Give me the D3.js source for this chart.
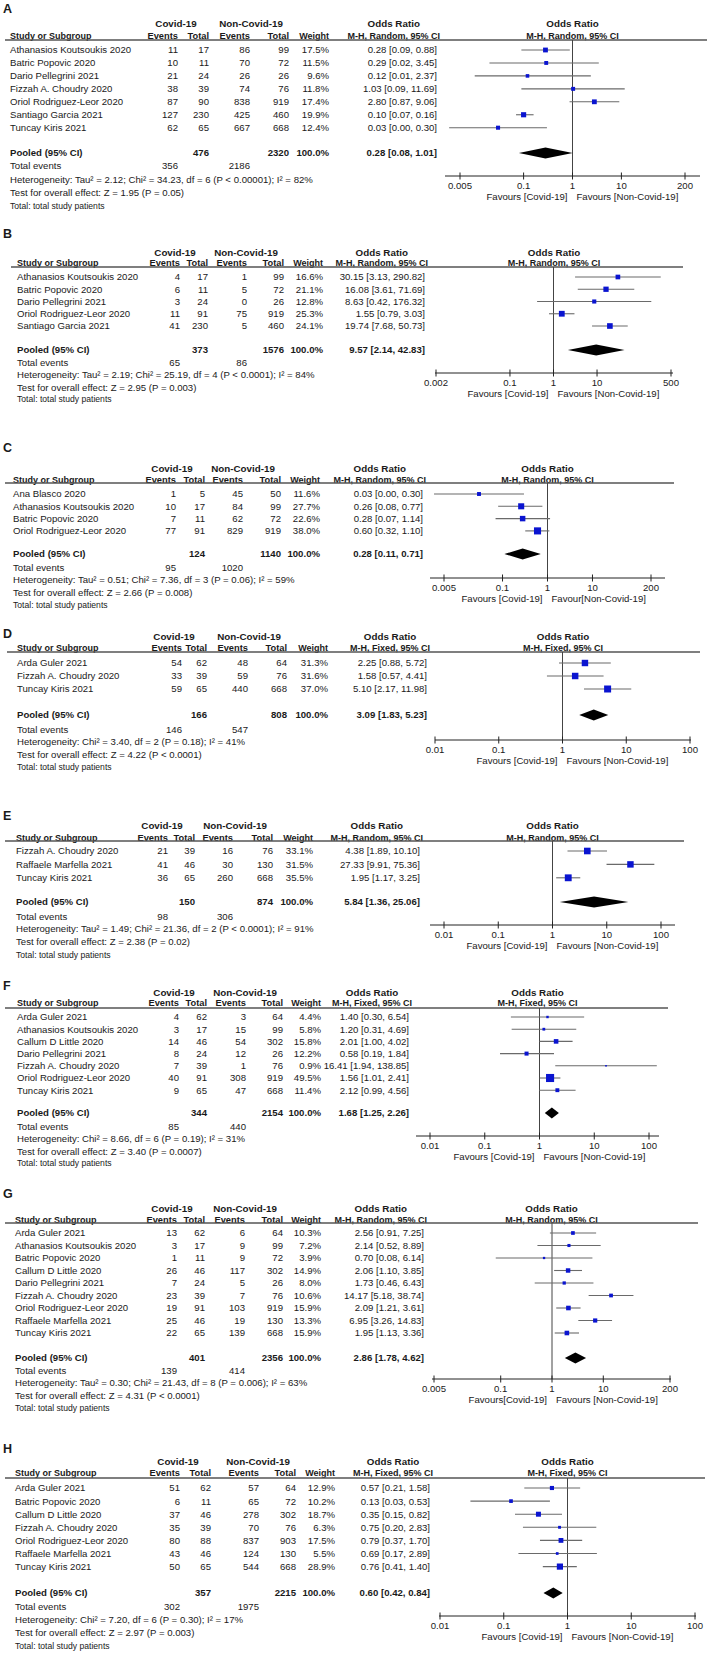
<!DOCTYPE html>
<html>
<head>
<meta charset="utf-8">
<script src="https://cdn.jsdelivr.net/npm/d3@7"></script>
<style>
  body { margin: 0; background: #fff; }
  svg { display: block; font-family: "Liberation Sans", Arial, sans-serif; }
</style>
</head>
<body>
<script>
// ---- data ----

// A
const studiesA = ["Athanasios Koutsoukis 2020", "Batric Popovic 2020", "Dario Pellegrini 2021", "Fizzah A. Choudry 2020", "Oriol Rodriguez-Leor 2020", "Santiago Garcia 2021", "Tuncay Kiris 2021"];
const countsA = [[11, 17, 86, 99], [10, 11, 70, 72], [21, 24, 26, 26], [38, 39, 74, 76], [87, 90, 838, 919], [127, 230, 425, 460], [62, 65, 667, 668]];
const weightsA = [17.5, 11.5, 9.6, 11.8, 17.4, 19.9, 12.4];
const oddsA = [[0.28, 0.09, 0.88], [0.29, 0.02, 3.45], [0.12, 0.01, 2.37], [1.03, 0.09, 11.69], [2.80, 0.87, 9.06], [0.10, 0.07, 0.16], [0.03, 0.003, 0.30]];
const pooledA = [476, 2320, 356, 2186];
const pooledOddsA = [0.28, 0.08, 1.01];
const ticksA = [0.005, 0.1, 1, 10, 200];
const notesA = ["Heterogeneity: Tau² = 2.12; Chi² = 34.23, df = 6 (P < 0.00001); I² = 82%", "Test for overall effect: Z = 1.95 (P = 0.05)"];
const favoursA = ["Favours [Covid-19]", "Favours [Non-Covid-19]"];

// B
const studiesB = ["Athanasios Koutsoukis 2020", "Batric Popovic 2020", "Dario Pellegrini 2021", "Oriol Rodriguez-Leor 2020", "Santiago Garcia 2021"];
const countsB = [[4, 17, 1, 99], [6, 11, 5, 72], [3, 24, 0, 26], [11, 91, 75, 919], [41, 230, 5, 460]];
const weightsB = [16.6, 21.1, 12.8, 25.3, 24.1];
const oddsB = [[30.15, 3.13, 290.82], [16.08, 3.61, 71.69], [8.63, 0.42, 176.32], [1.55, 0.79, 3.03], [19.74, 7.68, 50.73]];
const pooledB = [373, 1576, 65, 86];
const pooledOddsB = [9.57, 2.14, 42.83];
const ticksB = [0.002, 0.1, 1, 10, 500];
const notesB = ["Heterogeneity: Tau² = 2.19; Chi² = 25.19, df = 4 (P < 0.0001); I² = 84%", "Test for overall effect: Z = 2.95 (P = 0.003)"];
const favoursB = ["Favours [Covid-19]", "Favours [Non-Covid-19]"];

// C
const studiesC = ["Ana Blasco 2020", "Athanasios Koutsoukis 2020", "Batric Popovic 2020", "Oriol Rodriguez-Leor 2020"];
const countsC = [[1, 5, 45, 50], [10, 17, 84, 99], [7, 11, 62, 72], [77, 91, 829, 919]];
const weightsC = [11.6, 27.7, 22.6, 38.0];
const oddsC = [[0.03, 0.003, 0.30], [0.26, 0.08, 0.77], [0.28, 0.07, 1.14], [0.60, 0.32, 1.10]];
const pooledC = [124, 1140, 95, 1020];
const pooledOddsC = [0.28, 0.11, 0.71];
const ticksC = [0.005, 0.1, 1, 10, 200];
const notesC = ["Heterogeneity: Tau² = 0.51; Chi² = 7.36, df = 3 (P = 0.06); I² = 59%", "Test for overall effect: Z = 2.66 (P = 0.008)"];
const favoursC = ["Favours [Covid-19]", "Favour[Non-Covid-19]"];

// D
const studiesD = ["Arda Guler 2021", "Fizzah A. Choudry 2020", "Tuncay Kiris 2021"];
const countsD = [[54, 62, 48, 64], [33, 39, 59, 76], [59, 65, 440, 668]];
const weightsD = [31.3, 31.6, 37.0];
const oddsD = [[2.25, 0.88, 5.72], [1.58, 0.57, 4.41], [5.10, 2.17, 11.98]];
const pooledD = [166, 808, 146, 547];
const pooledOddsD = [3.09, 1.83, 5.23];
const ticksD = [0.01, 0.1, 1, 10, 100];
const notesD = ["Heterogeneity: Chi² = 3.40, df = 2 (P = 0.18); I² = 41%", "Test for overall effect: Z = 4.22 (P < 0.0001)"];
const favoursD = ["Favours [Covid-19]", "Favours [Non-Covid-19]"];

// E
const studiesE = ["Fizzah A. Choudry 2020", "Raffaele Marfella 2021", "Tuncay Kiris 2021"];
const countsE = [[21, 39, 16, 76], [41, 46, 30, 130], [36, 65, 260, 668]];
const weightsE = [33.1, 31.5, 35.5];
const oddsE = [[4.38, 1.89, 10.10], [27.33, 9.91, 75.36], [1.95, 1.17, 3.25]];
const pooledE = [150, 874, 98, 306];
const pooledOddsE = [5.84, 1.36, 25.06];
const ticksE = [0.01, 0.1, 1, 10, 100];
const notesE = ["Heterogeneity: Tau² = 1.49; Chi² = 21.36, df = 2 (P < 0.0001); I² = 91%", "Test for overall effect: Z = 2.38 (P = 0.02)"];
const favoursE = ["Favours [Covid-19]", "Favours [Non-Covid-19]"];

// F
const studiesF = ["Arda Guler 2021", "Athanasios Koutsoukis 2020", "Callum D Little 2020", "Dario Pellegrini 2021", "Fizzah A. Choudry 2020", "Oriol Rodriguez-Leor 2020", "Tuncay Kiris 2021"];
const countsF = [[4, 62, 3, 64], [3, 17, 15, 99], [14, 46, 54, 302], [8, 24, 12, 26], [7, 39, 1, 76], [40, 91, 308, 919], [9, 65, 47, 668]];
const weightsF = [4.4, 5.8, 15.8, 12.2, 0.9, 49.5, 11.4];
const oddsF = [[1.40, 0.30, 6.54], [1.20, 0.31, 4.69], [2.01, 1.00, 4.02], [0.58, 0.19, 1.84], [16.41, 1.94, 138.85], [1.56, 1.01, 2.41], [2.12, 0.99, 4.56]];
const pooledF = [344, 2154, 85, 440];
const pooledOddsF = [1.68, 1.25, 2.26];
const ticksF = [0.01, 0.1, 1, 10, 100];
const notesF = ["Heterogeneity: Chi² = 8.66, df = 6 (P = 0.19); I² = 31%", "Test for overall effect: Z = 3.40 (P = 0.0007)"];
const favoursF = ["Favours [Covid-19]", "Favours [Non-Covid-19]"];

// G
const studiesG = ["Arda Guler 2021", "Athanasios Koutsoukis 2020", "Batric Popovic 2020", "Callum D Little 2020", "Dario Pellegrini 2021", "Fizzah A. Choudry 2020", "Oriol Rodriguez-Leor 2020", "Raffaele Marfella 2021", "Tuncay Kiris 2021"];
const countsG = [[13, 62, 6, 64], [3, 17, 9, 99], [1, 11, 9, 72], [26, 46, 117, 302], [7, 24, 5, 26], [23, 39, 7, 76], [19, 91, 103, 919], [25, 46, 19, 130], [22, 65, 139, 668]];
const weightsG = [10.3, 7.2, 3.9, 14.9, 8.0, 10.6, 15.9, 13.3, 15.9];
const oddsG = [[2.56, 0.91, 7.25], [2.14, 0.52, 8.89], [0.70, 0.08, 6.14], [2.06, 1.10, 3.85], [1.73, 0.46, 6.43], [14.17, 5.18, 38.74], [2.09, 1.21, 3.61], [6.95, 3.26, 14.83], [1.95, 1.13, 3.36]];
const pooledG = [401, 2356, 139, 414];
const pooledOddsG = [2.86, 1.78, 4.62];
const ticksG = [0.005, 0.1, 1, 10, 200];
const notesG = ["Heterogeneity: Tau² = 0.30; Chi² = 21.43, df = 8 (P = 0.006); I² = 63%", "Test for overall effect: Z = 4.31 (P < 0.0001)"];
const favoursG = ["Favours[Covid-19]", "Favours [Non-Covid-19]"];

// H
const studiesH = ["Arda Guler 2021", "Batric Popovic 2020", "Callum D Little 2020", "Fizzah A. Choudry 2020", "Oriol Rodriguez-Leor 2020", "Raffaele Marfella 2021", "Tuncay Kiris 2021"];
const countsH = [[51, 62, 57, 64], [6, 11, 65, 72], [37, 46, 278, 302], [35, 39, 70, 76], [80, 88, 837, 903], [43, 46, 124, 130], [50, 65, 544, 668]];
const weightsH = [12.9, 10.2, 18.7, 6.3, 17.5, 5.5, 28.9];
const oddsH = [[0.57, 0.21, 1.58], [0.13, 0.03, 0.53], [0.35, 0.15, 0.82], [0.75, 0.20, 2.83], [0.79, 0.37, 1.70], [0.69, 0.17, 2.89], [0.76, 0.41, 1.40]];
const pooledH = [357, 2215, 302, 1975];
const pooledOddsH = [0.60, 0.42, 0.84];
const ticksH = [0.01, 0.1, 1, 10, 100];
const notesH = ["Heterogeneity: Chi² = 7.20, df = 6 (P = 0.30); I² = 17%", "Test for overall effect: Z = 2.97 (P = 0.003)"];
const favoursH = ["Favours [Covid-19]", "Favours [Non-Covid-19]"];

// ---- layout of each panel (the panels were pasted in at slightly different sizes) ----
// y: label, header1, header2, rule, first row, row step, pooled, total events, het, test, total note, axis
// x: study, covid events, covid total, non events, non total, weight, OR text, tick range, axis line, rule end
const panels = [
  { key: "A", method: "Random", studies: studiesA, counts: countsA, weights: weightsA, odds: oddsA, pooled: pooledA, pooledOdds: pooledOddsA, ticks: ticksA, notes: notesA, favours: favoursA,
    y: [8, 23, 36, 40, 50, 12.95, 153, 166, 180, 193, 206, 176], x: [10, 178, 209, 250, 289, 329, 437], tx: [460, 685], ax: [445, 700], rule: [5, 707] },
  { key: "B", method: "Random", studies: studiesB, counts: countsB, weights: weightsB, odds: oddsB, pooled: pooledB, pooledOdds: pooledOddsB, ticks: ticksB, notes: notesB, favours: favoursB,
    y: [233, 252, 263, 267, 277, 12.25, 350, 363, 375, 388, 399, 373], x: [17, 180, 208, 247, 284, 323, 425], tx: [436, 671], ax: [435, 673], rule: [11, 683] },
  { key: "C", method: "Random", studies: studiesC, counts: countsC, weights: weightsC, odds: oddsC, pooled: pooledC, pooledOdds: pooledOddsC, ticks: ticksC, notes: notesC, favours: favoursC,
    y: [447, 468, 480, 483, 494, 12.3, 554, 568, 580, 593, 605, 578], x: [13, 176, 205, 243, 281, 320, 423], tx: [444, 651], ax: [430, 665], rule: [5, 674] },
  { key: "D", method: "Fixed", studies: studiesD, counts: countsD, weights: weightsD, odds: oddsD, pooled: pooledD, pooledOdds: pooledOddsD, ticks: ticksD, notes: notesD, favours: favoursD,
    y: [633, 636, 648, 652, 663, 13, 715, 730, 742, 755, 767, 740], x: [17, 182, 207, 248, 287, 328, 427], tx: [435, 690], ax: [435, 691], rule: [7, 700] },
  { key: "E", method: "Random", studies: studiesE, counts: countsE, weights: weightsE, odds: oddsE, pooled: pooledE, pooledOdds: pooledOddsE, ticks: ticksE, notes: notesE, favours: favoursE,
    y: [815, 825, 838, 841, 851, 13.4, 902, 917, 929, 942, 955, 925], x: [16, 168, 195, 233, 273, 313, 420], tx: [444, 661], ax: [430, 675], rule: [5, 684] },
  { key: "F", method: "Fixed", studies: studiesF, counts: countsF, weights: weightsF, odds: oddsF, pooled: pooledF, pooledOdds: pooledOddsF, ticks: ticksF, notes: notesF, favours: favoursF,
    y: [985, 992, 1003, 1008, 1017, 12.2, 1113, 1127, 1139, 1152, 1163, 1136], x: [17, 179, 207, 246, 283, 321, 409], tx: [430, 649], ax: [416, 659], rule: [5, 668] },
  { key: "G", method: "Random", studies: studiesG, counts: countsG, weights: weightsG, odds: oddsG, pooled: pooledG, pooledOdds: pooledOddsG, ticks: ticksG, notes: notesG, favours: favoursG,
    y: [1193, 1208, 1220, 1223, 1233, 12.5, 1358, 1371, 1383, 1396, 1408, 1379], x: [15, 177, 205, 245, 283, 321, 424], tx: [434, 670], ax: [432, 671], rule: [5, 698] },
  { key: "H", method: "Fixed", studies: studiesH, counts: countsH, weights: weightsH, odds: oddsH, pooled: pooledH, pooledOdds: pooledOddsH, ticks: ticksH, notes: notesH, favours: favoursH,
    y: [1448, 1461, 1473, 1478, 1488, 13.1, 1593, 1607, 1620, 1633, 1646, 1616], x: [15, 180, 211, 259, 296, 335, 430], tx: [440, 695], ax: [439, 696], rule: [5, 705] }
];

const ink = "#1a1a1a";
const fs = 9.6;

const svg = d3.select("body")
  .append("svg")
  .attr("width", 712)
  .attr("height", 1656)
  .style("background", "#fff");

// small helper for a line of text, y is the visual middle of the line
function txt(g, s, x, y, anchor, opts) {
  opts = opts || {};
  return g.append("text")
    .attr("x", x)
    .attr("y", y)
    .attr("dy", "0.36em")
    .attr("text-anchor", anchor || "start")
    .attr("font-size", opts.size || fs)
    .attr("font-weight", opts.bold ? "bold" : "normal")
    .attr("fill", ink)
    .text(s);
}

const f2 = d => d.toFixed(2);
const orText = o => `${f2(o[0])} [${f2(o[1])}, ${f2(o[2])}]`;

panels.forEach(p => {
  const g = svg.append("g");
  const [yLab, yH1, yH2, yRule, yR0, step, yPool, yTE, yHet, yTest, yTot, yAxis] = p.y;
  const [xS, xCE, xCT, xNE, xNT, xW, xOR] = p.x;

  const row = d3.scaleLinear().domain([0, 1]).range([yR0, yR0 + step]);
  const x = d3.scaleLog().domain([p.ticks[0], p.ticks[p.ticks.length - 1]]).range(p.tx);
  const clip = v => Math.max(p.ax[0], Math.min(p.ax[1], x(v)));
  const plotMid = (p.ax[0] + p.ax[1]) / 2;

  // panel letter
  txt(g, p.key, 3, yLab, "start", { bold: true, size: 12.5 });

  // header rows
  const hs = 9.3;
  txt(g, "Study or Subgroup", xS, yH2, "start", { bold: true, size: 9 });
  txt(g, "Events", xCE, yH2, "end", { bold: true, size: hs });
  txt(g, "Total", xCT, yH2, "end", { bold: true, size: hs });
  txt(g, "Events", xNE, yH2, "end", { bold: true, size: hs });
  txt(g, "Total", xNT, yH2, "end", { bold: true, size: hs });
  txt(g, "Weight", xW, yH2, "end", { bold: true, size: 9 });
  // table method label hugs the right edge of the OR column, its title sits over it
  const mh = txt(g, `M-H, ${p.method}, 95% CI`, xOR + 3, yH2, "end", { bold: true, size: 9 });
  const orMid = xOR + 3 - mh.node().getComputedTextLength() / 2;
  txt(g, `M-H, ${p.method}, 95% CI`, plotMid, yH2, "middle", { bold: true, size: 9 });

  txt(g, "Covid-19", xCT - 33, yH1, "middle", { bold: true, size: 9.8 });
  txt(g, "Non-Covid-19", xNT - 38, yH1, "middle", { bold: true, size: 9.8 });
  txt(g, "Odds Ratio", orMid, yH1, "middle", { bold: true, size: 9.8 });
  txt(g, "Odds Ratio", plotMid, yH1, "middle", { bold: true, size: 9.8 });

  g.append("line")
    .attr("x1", p.rule[0]).attr("x2", p.rule[1])
    .attr("y1", yRule).attr("y2", yRule)
    .attr("stroke", "#555").attr("stroke-width", 1.6);

  // study rows
  p.studies.forEach((s, i) => {
    const yy = row(i);
    const c = p.counts[i];
    txt(g, s, xS, yy, "start");
    txt(g, c[0], xCE, yy, "end");
    txt(g, c[1], xCT, yy, "end");
    txt(g, c[2], xNE, yy, "end");
    txt(g, c[3], xNT, yy, "end");
    txt(g, p.weights[i].toFixed(1) + "%", xW, yy, "end");
    txt(g, orText(p.odds[i]), xOR, yy, "end");
  });

  // pooled / totals
  txt(g, "Pooled (95% CI)", xS, yPool, "start", { bold: true });
  txt(g, p.pooled[0], xCT, yPool, "end", { bold: true });
  txt(g, p.pooled[1], xNT, yPool, "end", { bold: true });
  txt(g, "100.0%", xW, yPool, "end", { bold: true });
  txt(g, orText(p.pooledOdds), xOR, yPool, "end", { bold: true });
  txt(g, "Total events", xS, yTE, "start");
  txt(g, p.pooled[2], xCE, yTE, "end");
  txt(g, p.pooled[3], xNE, yTE, "end");
  txt(g, p.notes[0], xS, yHet, "start");
  txt(g, p.notes[1], xS, yTest, "start");
  txt(g, "Total: total study patients", xS, yTot, "start", { size: 8.6 });

  // line of no effect
  g.append("line")
    .attr("x1", x(1)).attr("x2", x(1))
    .attr("y1", yRule).attr("y2", yAxis)
    .attr("stroke", "#444").attr("stroke-width", 1);

  // confidence intervals and weighted squares
  const side = w => Math.max(1.6, 1.15 * Math.sqrt(w));
  const rows = g.selectAll(".study")
    .data(p.odds)
    .join("g")
    .attr("class", "study");
  rows.append("line")
    .attr("x1", d => clip(d[1]))
    .attr("x2", d => clip(d[2]))
    .attr("y1", (d, i) => row(i))
    .attr("y2", (d, i) => row(i))
    .attr("stroke", "#6a6a6a")
    .attr("stroke-width", 1.1);
  rows.append("rect")
    .attr("width", (d, i) => side(p.weights[i]))
    .attr("height", (d, i) => side(p.weights[i]))
    .attr("x", (d, i) => x(d[0]) - side(p.weights[i]) / 2)
    .attr("y", (d, i) => row(i) - side(p.weights[i]) / 2)
    .attr("fill", "#0a14d0");

  // pooled diamond
  const po = p.pooledOdds;
  g.append("path")
    .attr("d", `M${x(po[1])},${yPool} L${x(po[0])},${yPool - 5.5} L${x(po[2])},${yPool} L${x(po[0])},${yPool + 5.5} Z`)
    .attr("fill", "#000");

  // axis
  g.append("line")
    .attr("x1", p.ax[0]).attr("x2", p.ax[1])
    .attr("y1", yAxis).attr("y2", yAxis)
    .attr("stroke", "#222").attr("stroke-width", 1);
  g.selectAll(".tick")
    .data(p.ticks)
    .join("line")
    .attr("class", "tick")
    .attr("x1", d => x(d)).attr("x2", d => x(d))
    .attr("y1", yAxis - 3.5).attr("y2", yAxis + 3.5)
    .attr("stroke", "#222").attr("stroke-width", 1);
  p.ticks.forEach(t => txt(g, String(t), x(t), yAxis + 10, "middle"));

  txt(g, p.favours[0], x(1) - 5, yAxis + 21, "end");
  txt(g, p.favours[1], x(1) + 4, yAxis + 21, "start");
});
</script>
</body>
</html>
